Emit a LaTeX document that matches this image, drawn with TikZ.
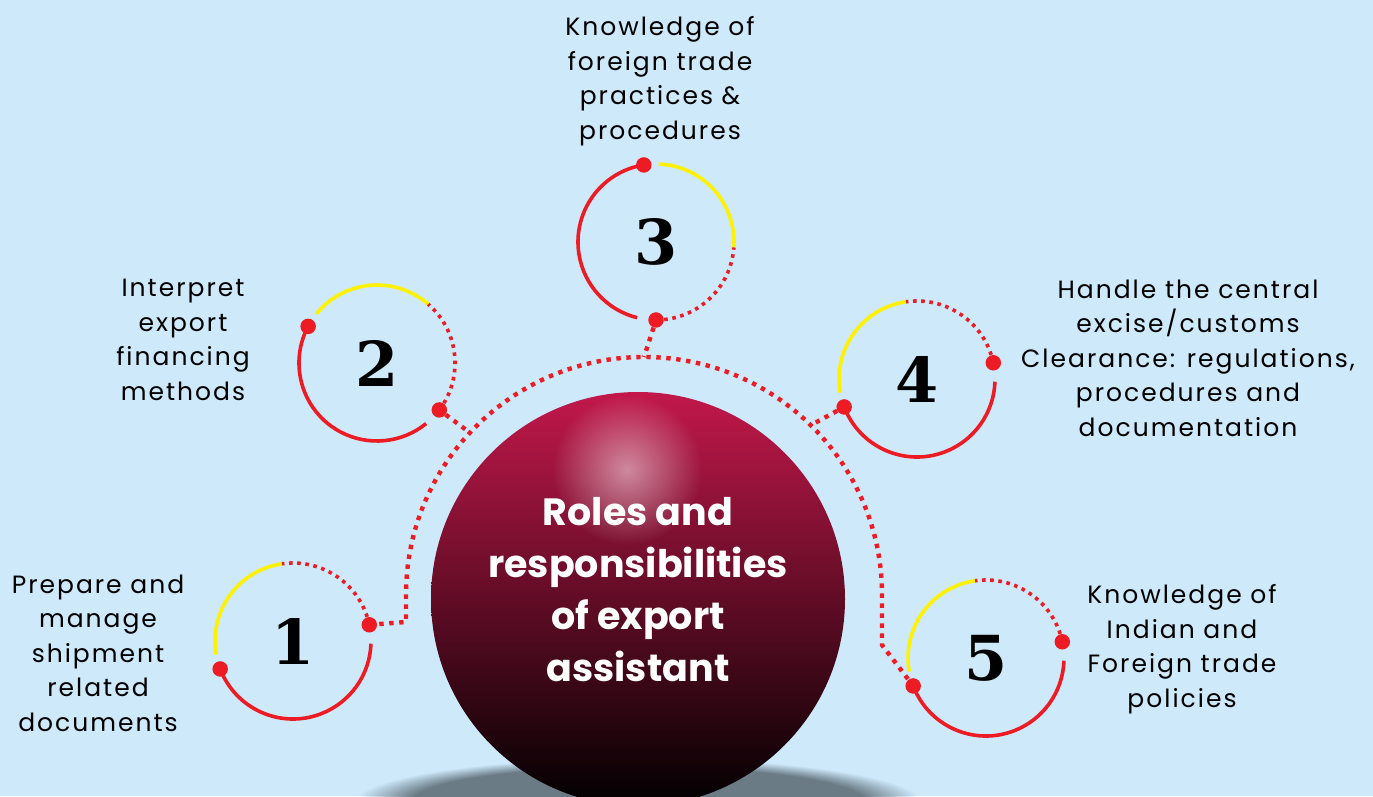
\documentclass[tikz,border=0pt]{standalone}
\usepackage{fontspec}
\usepackage{tikz}
\usetikzlibrary{fadings}
\newfontfamily\labelfont{Poppins}
\newfontfamily\widelabelfont{Poppins}[LetterSpace=8]
\newfontfamily\numfont{DejaVu Serif}
\definecolor{bgblue}{HTML}{CDE9FA}
\definecolor{linered}{HTML}{ED1C24}
\definecolor{lineyellow}{HTML}{FFF200}
\definecolor{ballred}{HTML}{C2184B}
\definecolor{ballmid}{HTML}{5E0C26}
\definecolor{shadowgray}{HTML}{6A7B86}
\tikzfading[name=glow, inner color=transparent!0, outer color=transparent!100]
\tikzset{
  solidarc/.style={draw=linered, line width=3.6pt},
  yellowarc/.style={draw=lineyellow, line width=3.6pt},
  dotarc/.style={draw=linered, line width=3.6pt, dash pattern=on 3.6pt off 4.6pt},
  linkdots/.style={draw=linered, line width=4.4pt, dash pattern=on 4.4pt off 5.6pt},
  rdot/.style={circle, fill=linered, inner sep=0pt, minimum size=15.5pt},
  ringnum/.style={font=\numfont\bfseries\fontsize{62}{62}\selectfont},
  lbl/.style={font=\widelabelfont\fontsize{25}{34.5}\selectfont, align=center, text=black},
  balltext/.style={font=\labelfont\bfseries\fontsize{38}{52}\selectfont, align=center, text=white},
}

\begin{document}
\begin{tikzpicture}[x=1pt, y=1pt]
    \useasboundingbox (0,0) rectangle (1373,796);
    \clip (0,0) rectangle (1373,796);
    \fill[bgblue] (0,0) rectangle (1373,796);

    % shadow under the ball
    \fill[shadowgray, path fading=circle with fuzzy edge 20 percent] (638,-6) ellipse (282 and 44);

    % the ball
    \node[circle, minimum size=414pt, inner sep=0pt, top color=ballred,
          middle color=ballmid, bottom color=black] (ball) at (638,197) {};
    \fill[white, fill opacity=0.5, path fading=glow] (627,326) circle (75);
    \node[balltext] (title) at (638,206) {Roles and\\responsibilities\\of export\\assistant};

    % the five rings, the last value turns the ring
    \foreach \n/\cx/\cy/\r in {1/293/155/0, 2/377/433/-49, 3/656/554/-102, 4/917/417/0, 5/986/138/0}{
        \node[ringnum] (r\n) at (\cx,\cy) {\n};
        \draw[yellowarc] (r\n.center) ++({98+\r}:78) arc[start angle={98+\r}, end angle={190+\r}, radius=78];
        \draw[dotarc] (r\n.center) ++({12+\r}:78) arc[start angle={12+\r}, end angle={98+\r}, radius=78];
        \draw[solidarc] (r\n.center) ++({201+\r}:78) arc[start angle={201+\r}, end angle={358+\r}, radius=78];
        \path (r\n.center) ++({12+\r}:78) node[rdot] (a\n) {};
        \path (r\n.center) ++({201+\r}:78) node[rdot] (b\n) {};
    }

    %% dotted half ring round the ball
    \coordinate (hub) at (644,201);
    \path (hub) ++(180:238) coordinate (hl);
    \path (hub) ++(0:238) coordinate (hr);
    \coordinate (hlc) at (406,174);
    \coordinate (hrc) at (882,151);
    \draw[linkdots] (a1.center) -- (hlc) -- (hl) arc[start angle=180, end angle=0, radius=238] -- (hrc) -- (b5.center);

    %% spokes to rings 2, 3 and 4
    \path (hub) ++(137:238) coordinate (s2);
    \path (hub) ++(90:238) coordinate (s3);
    \path (hub) ++(45.5:238) coordinate (s4);
    \draw[linkdots] (a2) -- (s2);
    \draw[linkdots] (a3) -- (s3);
    \draw[linkdots] (b4) -- (s4);

    % texts
    \node[lbl] (t1) at (98,143) {Prepare and\\manage\\shipment\\related\\documents};
    \node[lbl] (t2) at (183,456) {Interpret\\export\\financing\\methods};
    \node[lbl] (t3) at (660,715) {Knowledge of\\foreign trade\\practices \&\\procedures};
    \node[lbl] (t4) at (1188,438) {Handle the central\\excise/customs\\Clearance: regulations,\\procedures and\\documentation};
    \node[lbl] (t5) at (1182,147) {Knowledge of\\Indian and\\Foreign trade\\policies};
\end{tikzpicture}
\end{document}
